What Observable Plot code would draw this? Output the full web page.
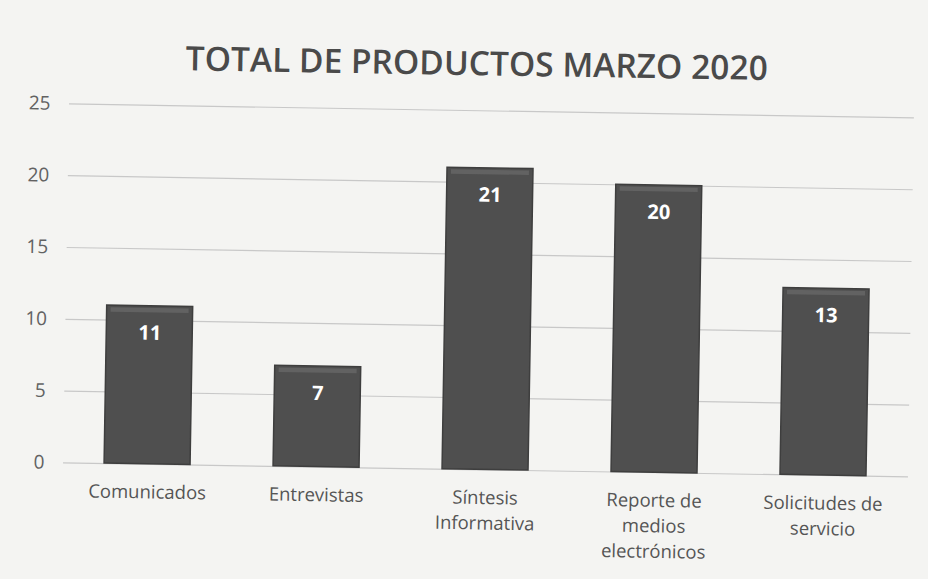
<!DOCTYPE html>
<html>
<head>
<meta charset="utf-8">
<script src="https://cdn.jsdelivr.net/npm/d3@7"></script>
<script src="https://cdn.jsdelivr.net/npm/@observablehq/plot@0.6"></script>
<style>
  html, body { margin: 0; padding: 0; background: #f4f4f2; }
  #wrap { width: 928px; height: 579px; position: relative; transform: rotate(0.95deg); transform-origin: 464px 290px; font-family: "Open Sans", sans-serif; }
  #title { height: 85px; box-sizing: border-box; padding-top: 42px; text-align: center; font-size: 33.5px; font-weight: 600; color: #4a4a4a; line-height: 40px; margin: 0; padding-left: 18px; white-space: nowrap; }
</style>
</head>
<body>
<div id="wrap">
  <div id="title">TOTAL DE PRODUCTOS MARZO 2020</div>
  <div id="chart"></div>
</div>
<script>
const categories = ["Comunicados", "Entrevistas", "Síntesis Informativa", "Reporte de medios electrónicos", "Solicitudes de servicio"];
const tickLabels = ["Comunicados", "Entrevistas", "Síntesis\nInformativa", "Reporte de\nmedios\nelectrónicos", "Solicitudes de\nservicio"];
const values = [11, 7, 21, 20, 13];
const yTicks = [0, 5, 10, 15, 20, 25];

const data = categories.map((c, i) => ({category: c, value: values[i]}));
const labelOf = new Map(categories.map((c, i) => [c, tickLabels[i]]));

const chart = Plot.plot({
  width: 928,
  height: 494,
  marginLeft: 66,
  marginRight: 17,
  marginTop: 25,
  marginBottom: 110,
  style: {background: "transparent", fontFamily: "Open Sans, sans-serif", fontSize: "18px", color: "#5a5a5a"},
  x: {domain: categories, paddingInner: 0.49, paddingOuter: 0.245, label: null},
  y: {domain: [0, 25], ticks: yTicks, label: null},
  marks: [
    Plot.gridY(yTicks, {stroke: "#c8c8c8", strokeOpacity: 1, strokeWidth: 1.2}),
    Plot.axisY(yTicks, {tickSize: 0, tickPadding: 19, fontSize: 19, fill: "#626262", label: null}),
    Plot.axisX({tickSize: 0, tickPadding: 16, fontSize: 18.5, fill: "#555", lineHeight: 1.38, tickFormat: d => labelOf.get(d), label: null}),
    Plot.barY(data, {x: "category", y: "value", fill: "#4f4f4f", stroke: "#3e3e3e", strokeWidth: 1.5}),
    Plot.barY(data, {x: "category", y1: d => d.value - 0.45, y2: "value", fill: "#626262", insetLeft: 4, insetRight: 4, insetTop: 2}),
    Plot.text(data, {x: "category", y: "value", text: d => String(d.value), dy: 27, fill: "white", fontWeight: 700, fontSize: 20})
  ]
});
document.getElementById("chart").appendChild(chart);
</script>
</body>
</html>
